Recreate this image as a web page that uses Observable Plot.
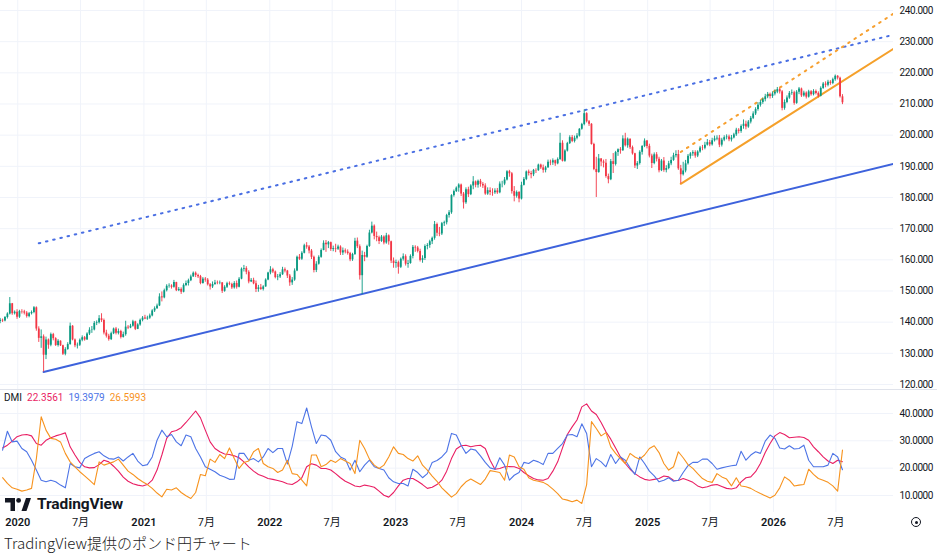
<!DOCTYPE html>
<html><head><meta charset="utf-8">
<script src="https://cdn.jsdelivr.net/npm/d3@7"></script>
<script src="https://cdn.jsdelivr.net/npm/@observablehq/plot@0.6"></script>
<style>
body{margin:0;background:#fff;}
#wrap{position:relative;width:937px;height:553px;overflow:hidden;font-family:Roboto,"Noto Sans CJK JP",sans-serif;color:#131722;}
#price{position:absolute;left:0;top:0;}
#dmi{position:absolute;left:0;top:390px;}
#sep{position:absolute;left:0;top:389px;width:937px;height:1px;background:#e0e3eb;}
#legend{position:absolute;left:4px;top:392px;font-size:10px;white-space:nowrap;}
#legend span{margin-right:5px;}
#logo{position:absolute;left:5px;top:495px;display:flex;align-items:center;font-family:Roboto,sans-serif;font-weight:700;font-size:15.5px;color:#131722;letter-spacing:-0.1px;}
#caption{position:absolute;left:4px;top:532px;font-family:"Noto Sans CJK JP",sans-serif;font-weight:300;font-size:15px;color:#222;white-space:nowrap;}
#gear{position:absolute;left:911px;top:517px;width:8px;height:8px;border:1.3px solid #131722;border-radius:50%;}
#gear:after{content:"";position:absolute;left:2.5px;top:2.5px;width:3px;height:3px;background:#131722;border-radius:50%;}
.ax text{letter-spacing:-0.4px;}
</style></head><body>
<div id="wrap">
  <div id="price"></div>
  <div id="sep"></div>
  <div id="dmi"></div>
  <div id="legend"><span style="color:#131722">DMI</span><span style="color:#e91e63">22.3561</span><span style="color:#4d74e6">19.3979</span><span style="color:#f7931e">26.5993</span></div>
  <div id="logo"><svg width="26" height="13" viewBox="0 0 26 13"><path d="M0 0h10v13h-4.5v-8.5h-5.5z" fill="#131722"/><circle cx="13.6" cy="2.4" r="2.4" fill="#131722"/><path d="M16.5 13 L21 0 H26 L21.5 13Z" fill="#131722"/></svg><span style="margin-left:6px">TradingView</span></div>
  <div id="caption">TradingView提供のポンド円チャート</div>
  <div id="gear"></div>
</div>
<script>
// ---- weekly candles (week starting Monday 2019-11-11) ----
const firstOpen = 140.2;
const close2019 = [140.6,140.4,141.5,142.6,145.9,142.7,143.2];
const high2019  = [141.2,141.0,141.8,143.0,147.9,146.0,143.6];
const low2019   = [139.5,139.9,140.1,141.0,142.3,142.2,142.3];
const close2020 = [141.6,143.4,143.3,142.9,141.8,142.7,143.1,144.6,137.8,134.8,135.3,129.4,134.3,132.6,136.0,134.7,132.5,133.9,132.4,129.7,131.2,132.8,138.7,134.3,132.4,132.6,134.2,135.0,134.3,136.2,137.4,137.5,139.6,139.8,141.1,140.5,136.5,135.5,134.4,136.3,137.8,136.4,137.0,135.1,136.0,138.4,138.1,138.7,140.1,137.7,139.1,140.6];
const high2020  = [144.0,143.8,144.0,143.8,143.4,143.1,143.6,145.0,144.9,138.5,137.5,135.9,135.2,134.6,136.5,136.4,135.0,134.4,134.0,132.6,131.8,133.4,139.7,138.9,134.6,133.3,134.6,135.6,135.4,136.6,138.2,138.6,140.2,140.4,142.1,142.7,141.0,137.4,136.1,136.8,138.1,138.3,137.8,137.4,136.8,140.3,138.9,139.3,140.6,140.3,139.5,141.0];
const low2020   = [140.9,141.2,142.6,142.3,141.3,141.4,142.3,142.7,137.1,133.5,131.6,124.0,128.0,131.3,132.1,134.0,132.2,132.0,132.2,129.3,129.2,131.0,132.6,134.0,131.8,131.4,132.2,133.7,133.9,134.2,135.7,136.4,137.2,138.9,139.4,139.9,135.9,134.9,133.9,134.1,136.0,135.9,135.9,134.6,134.9,135.5,137.6,137.9,138.4,137.3,137.6,138.7];
const close2021 = [141.3,141.0,141.3,142.0,143.6,144.3,145.2,148.1,147.8,150.1,151.5,151.6,151.2,152.7,150.1,150.5,149.6,151.8,152.4,153.3,154.5,155.7,155.0,154.6,152.4,153.8,153.5,152.0,151.3,152.1,152.6,152.5,152.6,149.9,151.2,152.3,152.1,151.0,152.4,151.2,153.8,157.0,157.2,156.0,152.9,153.4,152.3,150.5,151.0,150.5,151.3,153.5,155.8];
const high2021  = [141.8,142.2,141.9,142.6,144.0,144.9,145.8,149.1,149.7,150.6,152.0,152.3,152.0,153.4,152.8,151.1,151.0,152.3,153.2,153.8,155.1,156.1,156.1,155.4,155.0,154.3,154.3,154.0,152.4,152.9,153.4,153.2,153.2,152.7,151.7,152.8,152.9,152.5,153.0,153.2,154.3,157.4,158.2,157.8,156.5,154.0,154.1,153.2,151.8,152.1,151.7,153.9,156.0];
const low2021   = [140.1,140.8,140.6,140.9,141.7,143.1,144.1,145.0,146.5,147.5,149.7,150.9,150.6,150.9,149.8,149.8,148.9,149.4,151.4,151.6,153.0,154.4,154.3,154.0,152.0,152.2,152.8,151.6,150.3,150.8,151.8,152.0,152.0,149.2,149.6,150.8,151.7,150.5,150.6,150.6,151.0,153.6,156.1,155.2,152.3,152.7,152.0,149.5,149.6,150.2,150.0,151.2,153.3];
const close2022 = [156.8,156.1,154.3,154.5,155.2,156.8,156.4,154.8,152.6,153.5,156.4,160.8,160.2,162.1,164.5,164.1,162.8,160.8,156.6,158.6,160.8,163.0,165.3,164.8,165.5,163.3,163.6,163.4,164.1,162.2,162.9,162.5,162.0,160.0,161.7,166.0,164.2,154.9,161.4,160.8,164.3,168.6,170.8,167.5,167.1,165.9,167.3,165.4,167.7,165.8,159.6,158.8];
const high2022  = [157.8,157.3,156.4,155.3,155.9,157.6,157.4,156.6,155.3,154.3,157.1,161.2,161.7,162.6,165.0,165.5,164.6,163.3,161.2,159.4,161.3,163.5,166.1,166.2,165.9,165.7,164.4,165.0,164.7,164.5,163.8,163.5,163.2,162.4,162.1,166.9,167.0,164.8,162.8,162.4,164.7,169.5,172.1,171.2,168.9,167.6,167.8,167.7,168.5,168.0,166.0,160.6];
const low2022   = [155.2,155.6,153.9,153.3,154.0,155.0,155.8,154.0,151.5,151.8,153.1,156.2,159.8,159.8,161.9,163.4,161.9,160.1,155.8,155.9,158.3,160.5,162.9,162.4,163.6,162.7,162.6,162.3,163.0,161.4,161.4,161.9,161.5,159.4,159.5,161.4,163.6,153.5,148.9,159.4,160.5,164.0,168.3,166.4,165.8,164.9,165.6,164.8,165.0,164.7,158.8,157.3];
const close2023 = [159.1,157.6,160.2,161.0,158.6,158.8,161.1,164.0,163.8,162.7,159.8,160.4,164.3,164.6,165.8,166.9,171.3,168.5,168.3,171.6,171.9,174.2,175.1,180.6,181.9,183.0,184.0,181.1,178.3,182.5,180.9,183.7,185.0,183.9,185.2,184.2,183.7,181.1,182.2,181.6,181.5,182.1,181.5,184.3,184.3,185.6,188.3,187.6,181.9,180.4,181.6,179.5];
const high2023  = [159.9,159.6,160.6,161.9,161.6,159.8,161.6,164.6,164.5,164.3,163.4,161.3,164.8,165.2,166.3,167.3,172.3,171.8,170.4,172.0,172.4,174.6,175.8,180.9,182.4,183.4,184.4,184.3,181.6,183.1,183.3,184.1,186.7,185.3,185.6,185.8,184.8,184.4,183.1,183.1,182.8,182.8,182.9,185.0,185.2,186.4,188.6,188.7,188.0,183.5,182.1,181.9];
const low2023   = [157.3,155.4,157.2,159.6,158.0,157.3,158.6,160.3,162.4,162.2,159.3,158.9,159.8,163.2,163.7,164.9,166.3,167.5,167.4,167.8,170.7,171.2,173.4,174.6,180.1,181.6,181.7,180.3,176.3,177.8,180.0,180.6,182.5,183.1,183.0,183.3,182.9,180.7,180.7,180.6,180.4,181.0,181.0,181.2,183.1,183.8,185.3,186.5,181.1,178.6,179.8,178.3];
const close2024 = [183.9,185.8,188.2,187.7,187.3,188.7,188.6,190.4,189.5,188.7,189.5,191.3,191.1,191.8,190.8,192.2,197.4,191.6,194.9,197.3,199.2,198.0,199.0,199.7,201.9,203.4,206.9,204.3,203.5,197.0,189.0,188.0,192.4,191.4,191.0,186.7,185.7,191.5,190.6,194.4,195.3,195.0,198.8,196.6,198.7,196.0,194.0,190.1,190.9,194.5,196.4,198.1];
const high2024  = [184.9,186.4,188.5,188.8,188.4,189.0,189.2,190.7,190.7,190.4,190.0,192.0,192.0,192.4,192.0,192.7,200.6,198.2,195.3,197.7,199.8,199.9,199.7,200.5,202.1,203.8,208.1,207.2,204.7,203.7,197.4,192.9,193.8,192.4,192.0,192.2,187.5,192.2,194.1,194.8,195.6,196.0,199.8,200.6,199.1,198.8,196.5,194.2,191.5,195.0,196.6,198.8];
const low2024   = [179.2,183.7,185.4,186.9,186.0,186.7,187.7,188.4,189.0,187.8,187.9,189.5,190.2,190.3,190.0,190.5,191.9,191.4,191.3,194.6,197.0,197.6,197.5,198.5,199.4,201.6,203.0,203.9,202.8,196.8,188.6,180.0,187.8,189.9,189.5,186.2,184.4,185.4,187.7,190.1,193.2,193.9,194.8,196.2,195.8,195.4,193.6,189.3,189.0,190.4,193.6,196.0];
const close2025 = [196.4,193.3,190.9,193.7,192.3,188.6,191.7,188.7,189.3,190.8,191.9,193.4,193.8,189.2,187.3,188.5,190.8,193.2,194.0,194.4,193.3,194.6,195.9,195.8,196.8,197.6,196.9,198.2,198.8,199.0,196.8,198.4,199.2,199.4,198.5,199.1,200.1,201.6,201.2,202.8,203.5,202.6,204.2,205.4,206.8,208.2,209.6,210.5,211.4,212.3,213.0,212.4];
const high2025  = [198.3,197.1,193.9,194.3,194.4,192.9,192.2,192.8,190.2,191.6,192.9,194.2,195.0,195.1,190.3,191.3,191.9,193.8,194.4,195.0,195.0,195.0,196.4,196.7,197.7,198.6,198.3,199.0,199.7,199.8,199.9,199.0,199.8,200.1,200.0,199.9,200.6,202.2,202.1,203.3,204.9,204.5,204.7,206.0,207.5,208.8,210.4,211.2,211.9,213.1,213.7,213.5];
const low2025   = [195.6,192.7,189.3,190.5,191.4,187.9,188.3,188.1,187.9,188.9,190.2,191.6,192.7,188.7,184.4,186.9,187.9,190.4,192.3,193.2,192.6,192.8,194.2,195.0,195.3,196.5,196.3,196.5,197.8,198.2,196.0,196.2,197.9,198.5,197.9,197.8,198.8,199.6,200.4,200.6,201.9,201.7,202.2,203.6,205.0,206.3,207.7,209.0,209.9,210.7,211.7,211.6];
const close2026 = [213.2,213.8,214.6,213.9,208.6,210.5,211.9,213.4,213.6,210.2,213.8,214.8,212.6,213.5,212.2,213.9,213.0,214.0,213.4,212.5,215.0,216.4,216.0,217.0,216.6,217.8,218.9,218.3,212.3,210.4];
const high2026  = [213.9,214.5,215.3,215.0,214.3,211.3,212.6,214.0,214.5,214.1,214.3,215.3,215.1,214.1,213.9,214.4,214.3,214.6,214.5,213.9,215.5,216.9,217.1,217.6,217.5,218.3,219.3,219.1,218.6,213.0];
const low2026   = [211.8,212.6,213.3,213.2,207.8,208.0,210.1,211.5,212.8,209.6,209.9,213.0,212.1,212.2,211.6,211.9,212.5,212.6,212.9,211.9,212.3,214.7,215.2,215.5,216.0,216.2,217.3,217.7,211.9,209.8];

// ---- DMI(14), sampled every second week (candle 1, 3, 5, ...) ----
const adx = [27.4,28.4,29.9,31.5,32.1,32.3,31.8,29.0,28.4,30.2,31.1,31.8,32.3,32.9,27.8,24.8,22.1,20.5,20.1,20.2,21.3,22.9,22.3,20.7,18.9,16.7,15.2,14.3,13.8,13.5,14.0,15.6,19.3,24.8,30.9,33.3,33.8,34.8,36.7,38.8,40.9,38.4,33.9,29.6,27.2,26.0,25.2,25.0,24.5,23.8,22.3,20.5,18.9,17.7,17.0,16.2,15.9,15.5,15.0,14.3,14.0,15.0,
  16.5,20.5,21.6,21.1,19.9,19.9,19.3,18.0,16.5,15.2,14.4,13.5,13.2,13.8,13.5,13.0,11.6,10.1,9.4,11.1,13.5,15.6,16.2,16.2,15.2,14.0,12.6,13.0,14.0,15.6,18.9,23.5,27.0,28.2,28.4,27.8,28.2,28.4,27.2,22.9,19.6,19.9,20.5,20.6,20.5,19.9,18.4,17.2,16.2,15.7,15.6,16.2,18.9,22.3,27.4,32.3,35.1,37.6,42.4,43.5,
  40.9,39.6,36.7,33.3,30.6,27.4,24.1,21.7,19.6,18.0,16.8,15.9,15.6,15.9,16.2,17.1,16.8,15.6,15.5,16.2,15.6,14.8,13.5,12.8,13.2,13.8,14.0,13.3,12.6,12.4,12.8,15.0,16.5,16.8,18.7,21.7,25.7,29.0,31.8,33.0,32.3,31.1,31.3,31.5,31.2,30.2,27.8,26.0,24.1,22.6,21.7,22.9,22.3561];
const plusDI = [26.6,33.5,29.6,29.9,27.2,26.0,22.9,19.3,15.6,15.0,15.6,15.0,13.8,12.8,21.7,20.5,20.1,23.5,24.5,25.4,26.0,24.5,23.5,23.3,24.1,22.6,24.1,25.4,22.6,20.9,21.3,24.1,30.2,33.9,31.5,32.3,29.6,28.2,32.1,31.5,27.2,24.1,20.5,19.6,18.7,17.4,16.8,15.9,16.0,25.4,25.4,22.9,23.5,22.3,24.1,27.2,25.7,27.2,27.2,21.5,28.0,37.0,
  36.3,42.0,35.1,29.0,32.1,31.8,30.2,26.0,24.1,23.3,19.3,22.9,18.7,21.1,22.9,20.5,19.9,19.3,16.5,15.0,14.4,14.4,13.5,19.6,18.4,16.5,18.0,22.1,22.8,24.1,26.0,32.7,32.1,28.4,25.4,27.0,26.6,24.5,22.1,20.1,19.6,23.8,21.1,15.6,17.4,18.4,22.1,21.7,22.9,22.3,21.3,25.4,25.4,27.2,29.0,32.1,32.3,31.5,36.2,32.7,
  20.5,23.5,22.3,20.5,25.0,21.7,24.1,22.9,20.1,17.7,24.1,21.7,18.9,17.2,15.0,15.6,16.5,15.2,15.6,18.4,20.9,22.1,22.1,23.3,23.3,21.7,19.6,20.1,20.5,20.9,21.1,26.2,22.9,24.8,26.0,25.4,29.9,32.1,30.9,27.4,27.0,28.2,27.0,27.2,28.4,22.9,20.5,20.5,20.5,21.1,25.4,24.1,19.3979];
const minusDI = [16.5,14.4,12.8,12.3,11.6,12.0,12.6,23.5,38.8,33.9,30.9,30.6,29.6,25.4,22.3,20.5,18.7,17.2,15.6,14.0,22.3,21.1,21.7,22.3,23.3,21.1,18.9,17.7,16.2,15.0,14.0,12.6,10.9,9.5,12.3,12.0,12.8,11.1,9.9,8.9,11.1,17.7,17.2,23.3,22.1,25.0,23.5,27.4,23.5,19.9,22.1,22.6,26.0,27.2,21.7,20.5,19.9,18.4,19.3,22.9,18.0,17.7,
  15.6,13.5,24.8,24.8,20.5,21.3,22.9,22.1,23.5,22.6,21.7,18.0,30.2,27.2,23.3,21.1,19.9,21.1,24.1,27.8,25.4,25.0,23.5,22.6,24.5,21.1,19.3,17.1,15.2,12.8,11.1,9.4,10.7,13.2,15.0,16.0,15.0,14.0,16.0,19.1,18.8,18.4,15.6,24.8,24.1,20.5,19.6,16.5,15.6,15.2,14.8,13.8,12.3,10.7,8.7,8.3,7.7,8.3,7.1,14.0,
  37.0,34.5,31.8,33.0,27.8,25.4,23.5,21.7,25.4,24.1,23.3,24.8,27.2,28.2,25.7,21.7,19.3,20.5,26.0,23.8,21.3,19.9,18.0,16.2,15.2,14.8,18.0,16.8,16.0,13.5,16.5,13.5,13.2,12.6,11.6,10.7,9.9,9.1,10.1,12.8,16.8,15.6,13.5,13.8,14.0,19.6,17.7,16.2,15.6,14.8,13.5,11.6,26.5993];

// ---- drawn trend lines (date, price) ----
const supportLine    = [["2020-03-16",124.0],["2026-12-15",190.8]];
const resistanceLine = [["2020-03-02",165.3],["2026-12-15",232.2]];
const channelLow     = [["2025-04-07",184.4],["2026-12-15",227.7]];
const channelHigh    = [["2025-04-07",194.6],["2026-12-15",239.0]];

// ---- axes ----
const priceTicks = [120,130,140,150,160,170,180,190,200,210,220,230,240];
const dmiTicks = [10,20,30,40];
const timeTickDates = ["2020-01-01","2020-07-01","2021-01-01","2021-07-01","2022-01-01","2022-07-01","2023-01-01","2023-07-01","2024-01-01","2024-07-01","2025-01-01","2025-07-01","2026-01-01","2026-07-01"];
const timeTickLabels = ["2020","7月","2021","7月","2022","7月","2023","7月","2024","7月","2025","7月","2026","7月"];

// ---- build tables ----
const closes = [].concat(close2019,close2020,close2021,close2022,close2023,close2024,close2025,close2026);
const highs  = [].concat(high2019,high2020,high2021,high2022,high2023,high2024,high2025,high2026);
const lows   = [].concat(low2019,low2020,low2021,low2022,low2023,low2024,low2025,low2026);
const week0 = Date.UTC(2019,10,11), WEEK = 7*864e5;
const candles = closes.map((c,i)=>{
  const o = i===0 ? firstOpen : closes[i-1];
  return {date:new Date(week0+i*WEEK), o, c, h:Math.max(highs[i],o,c), l:Math.min(lows[i],o,c), up:c>=o};
});
const dmiRows = [];
adx.forEach((v,k)=>{
  const d = new Date(week0+(1+2*k)*WEEK);
  dmiRows.push({date:d, v:v, s:"adx"});
  dmiRows.push({date:d, v:plusDI[k], s:"plus"});
  dmiRows.push({date:d, v:minusDI[k], s:"minus"});
});
const toLine = arr => arr.map(([d,p])=>({date:new Date(d+"T00:00:00Z"), p}));
const tickRows = timeTickDates.map((d,i)=>({date:new Date(d+"T00:00:00Z"), label:timeTickLabels[i], year:!timeTickLabels[i].includes("月")}));

const W = 937, RIGHT = 44;
const xDomain = [new Date(Date.UTC(2019,10,12)), new Date(Date.UTC(2026,11,15))];
const GRID = "#f0f3fa";
const font = "Roboto, 'Noto Sans CJK JP', sans-serif";

const pricePlot = Plot.plot({
  width: W, height: 390, marginLeft: 0, marginRight: RIGHT, marginTop: 0, marginBottom: 0,
  x: {type: "utc", domain: xDomain, axis: null},
  y: {domain: [118.07, 243.21], axis: null},
  color: {type: "identity"},
  style: {fontFamily: font, fontSize: "10px", color: "#131722", background: "transparent", overflow: "visible"},
  marks: [
    Plot.ruleY(priceTicks, {stroke: GRID}),
    Plot.ruleX(tickRows, {x: "date", stroke: GRID}),
    Plot.axisY({anchor: "right", ticks: priceTicks, tickFormat: d => d.toFixed(3), tickSize: 0, tickPadding: 6, fontSize: 10, label: null, className: "ax"}),
    Plot.line(toLine(resistanceLine), {x: "date", y: "p", stroke: "#4a6fe3", strokeWidth: 2, strokeDasharray: "1.6,5.8", clip: true}),
    Plot.line(toLine(channelHigh), {x: "date", y: "p", stroke: "#f7a030", strokeWidth: 2, strokeDasharray: "1.6,5.8", clip: true}),
    Plot.line(toLine(supportLine), {x: "date", y: "p", stroke: "#3d62dc", strokeWidth: 2, clip: true}),
    Plot.line(toLine(channelLow), {x: "date", y: "p", stroke: "#f5a02a", strokeWidth: 2, clip: true}),
    Plot.ruleX(candles, {x: "date", y1: "l", y2: "h", stroke: d => d.up ? "#089981" : "#f23645", strokeWidth: 0.9}),
    Plot.ruleX(candles, {x: "date", y1: "o", y2: "c", stroke: d => d.up ? "#089981" : "#f23645", strokeWidth: 1.8})
  ]
});
document.getElementById("price").appendChild(pricePlot);

const dmiColor = {adx: "#e91e63", plus: "#4d74e6", minus: "#f7931e"};
const dmiPlot = Plot.plot({
  width: W, height: 148, marginLeft: 0, marginRight: RIGHT, marginTop: 0, marginBottom: 26,
  x: {type: "utc", domain: xDomain, axis: null},
  y: {domain: [3.78, 48.4], axis: null},
  color: {type: "identity"},
  style: {fontFamily: font, fontSize: "10px", color: "#131722", background: "transparent", overflow: "visible"},
  marks: [
    Plot.ruleY(dmiTicks, {stroke: GRID}),
    Plot.ruleX(tickRows, {x: "date", stroke: GRID}),
    Plot.axisY({anchor: "right", ticks: dmiTicks, tickFormat: d => d.toFixed(4), tickSize: 0, tickPadding: 6, fontSize: 10, label: null, className: "ax"}),
    Plot.line(dmiRows, {x: "date", y: "v", z: "s", stroke: d => dmiColor[d.s], strokeWidth: 1.1}),
    Plot.text(tickRows.filter(d => d.year), {x: "date", frameAnchor: "bottom", dy: 13, text: "label", fontWeight: 600, fontSize: 11, fill: "#131722"}),
    Plot.text(tickRows.filter(d => !d.year), {x: "date", frameAnchor: "bottom", dy: 13, text: "label", fontSize: 11, fill: "#131722"})
  ]
});
document.getElementById("dmi").appendChild(dmiPlot);
</script>
</body></html>
